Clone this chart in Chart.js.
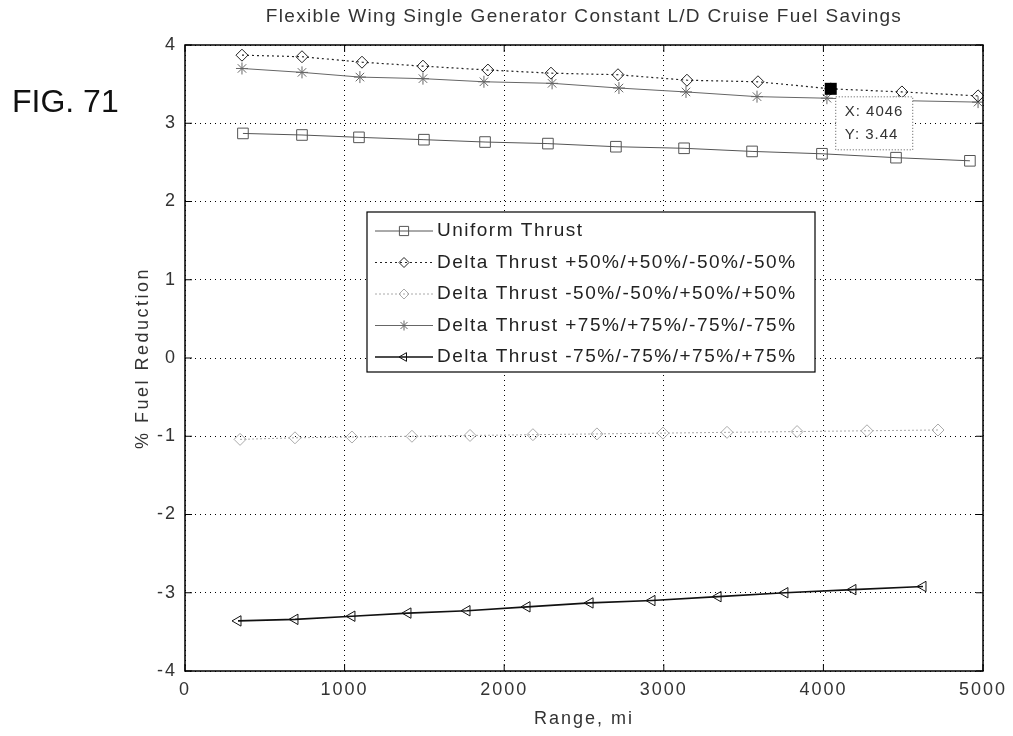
<!DOCTYPE html>
<html>
<head>
<meta charset="utf-8">
<script src="https://cdn.jsdelivr.net/npm/chart.js@4/dist/chart.umd.min.js"></script>
<style>
  html, body { margin: 0; padding: 0; background: #fff; }
  #wrap { width: 1013px; height: 736px; }
</style>
</head>
<body>
<div id="wrap"><canvas id="fuel" width="1013" height="736"></canvas></div>
<script>
// textos
const chartTitle = 'Flexible Wing Single Generator Constant L/D Cruise Fuel Savings';
const figLabel = 'FIG. 71';
const xAxisTitle = 'Range, mi';
const yAxisTitle = '% Fuel Reduction';

// datos
const uniformX = [363, 733, 1090, 1497, 1880, 2274, 2700, 3127, 3553, 3991, 4455, 4918];
const uniformY = [2.87, 2.85, 2.82, 2.79, 2.76, 2.74, 2.70, 2.68, 2.64, 2.61, 2.56, 2.52];

const plus50X = [357, 733, 1109, 1491, 1898, 2293, 2713, 3145, 3590, 4046, 4492, 4969];
const plus50Y = [3.87, 3.85, 3.78, 3.73, 3.68, 3.64, 3.62, 3.55, 3.53, 3.44, 3.40, 3.35];

const minus50X = [345, 689, 1046, 1422, 1786, 2180, 2581, 2995, 3396, 3835, 4273, 4718];
const minus50Y = [-1.04, -1.02, -1.01, -1.00, -0.99, -0.98, -0.97, -0.96, -0.95, -0.94, -0.93, -0.92];

const plus75X = [357, 733, 1096, 1491, 1873, 2300, 2719, 3139, 3584, 4022, 4470, 4969];
const plus75Y = [3.70, 3.65, 3.59, 3.57, 3.53, 3.51, 3.45, 3.40, 3.34, 3.32, 3.29, 3.27];

const minus75X = [332, 689, 1046, 1397, 1767, 2143, 2538, 2926, 3340, 3759, 4185, 4624];
const minus75Y = [-3.36, -3.34, -3.30, -3.26, -3.23, -3.18, -3.13, -3.10, -3.05, -3.00, -2.96, -2.92];

// etiqueta del cursor de datos
const tipX = 4046;
const tipY = 3.44;

const xTicks = [0, 1000, 2000, 3000, 4000, 5000];
const yTicks = [-4, -3, -2, -1, 0, 1, 2, 3, 4];

const FONT = '"Liberation Sans", Arial, sans-serif';

function toPoints(xs, ys) {
  return xs.map((x, i) => ({ x: x, y: ys[i] }));
}

function serie(label, xs, ys, color, dash, width, style, radius, rotation) {
  return {
    label: label,
    data: toPoints(xs, ys),
    borderColor: color,
    borderWidth: width,
    borderDash: dash,
    pointStyle: style,
    pointRadius: radius,
    pointRotation: rotation || 0,
    pointBorderColor: color,
    pointBackgroundColor: 'rgba(0,0,0,0)',
    pointBorderWidth: 1,
    fill: false,
    tension: 0
  };
}

const datasets = [
  serie('Uniform Thrust', uniformX, uniformY, '#555', [], 1, 'rect', 7.5),
  serie('Delta Thrust +50%/+50%/-50%/-50%', plus50X, plus50Y, '#222', [2, 3], 1.2, 'rectRot', 6),
  serie('Delta Thrust -50%/-50%/+50%/+50%', minus50X, minus50Y, '#aaa', [2, 2], 1, 'rectRot', 6),
  serie('Delta Thrust +75%/+75%/-75%/-75%', plus75X, plus75Y, '#666', [], 1, 'star', 6),
  serie('Delta Thrust -75%/-75%/+75%/+75%', minus75X, minus75Y, '#111', [], 1.6, 'triangle', 6, -90)
];

// dibujar marcador
function marker(ctx, ds, x, y) {
  ctx.save();
  ctx.strokeStyle = ds.pointBorderColor;
  ctx.fillStyle = ds.pointBackgroundColor;
  ctx.lineWidth = 1;
  ctx.setLineDash([]);
  if (Chart.helpers && Chart.helpers.drawPoint) {
    Chart.helpers.drawPoint(ctx, { pointStyle: ds.pointStyle, rotation: ds.pointRotation, radius: ds.pointRadius - 1, borderWidth: 1 }, x, y);
  } else {
    ctx.strokeRect(x - 4, y - 4, 8, 8);
  }
  ctx.restore();
}

// decoracion estilo matlab: marco, marcas, titulos, leyenda y cursor
const matlabDecor = {
  id: 'matlabDecor',
  beforeDraw(chart) {
    // las fuentes de matlab van mas espaciadas
    chart.ctx.letterSpacing = '2px';
  },
  afterDraw(chart) {
    const ctx = chart.ctx;
    const a = chart.chartArea;
    const xs = chart.scales.x;
    const ys = chart.scales.y;

    ctx.save();
    ctx.setLineDash([]);
    ctx.strokeStyle = '#000';
    ctx.lineWidth = 1.5;
    ctx.strokeRect(a.left, a.top, a.right - a.left, a.bottom - a.top);

    ctx.lineWidth = 1;
    xTicks.forEach(v => {
      const p = xs.getPixelForValue(v);
      ctx.beginPath();
      ctx.moveTo(p, a.bottom); ctx.lineTo(p, a.bottom - 7);
      ctx.moveTo(p, a.top); ctx.lineTo(p, a.top + 7);
      ctx.stroke();
    });
    yTicks.forEach(v => {
      const p = ys.getPixelForValue(v);
      ctx.beginPath();
      ctx.moveTo(a.left, p); ctx.lineTo(a.left + 7, p);
      ctx.moveTo(a.right, p); ctx.lineTo(a.right - 7, p);
      ctx.stroke();
    });

    // titulos
    ctx.fillStyle = '#333';
    ctx.letterSpacing = '1.3px';
    ctx.font = '19px ' + FONT;
    ctx.textAlign = 'center';
    ctx.textBaseline = 'middle';
    ctx.fillText(chartTitle, (a.left + a.right) / 2, 17);

    ctx.letterSpacing = '2px';
    ctx.font = '18px ' + FONT;
    ctx.fillText(xAxisTitle, (a.left + a.right) / 2, 719);

    ctx.save();
    ctx.letterSpacing = '2.5px';
    ctx.translate(143, (a.top + a.bottom) / 2);
    ctx.rotate(-Math.PI / 2);
    ctx.fillText(yAxisTitle, 0, 0);
    ctx.restore();

    ctx.letterSpacing = '0px';
    ctx.fillStyle = '#111';
    ctx.font = '32px ' + FONT;
    ctx.textAlign = 'left';
    ctx.textBaseline = 'alphabetic';
    ctx.fillText(figLabel, 12, 112);

    // leyenda
    const lx = 367, ly = 212, lw = 448, lh = 160;
    ctx.fillStyle = '#fff';
    ctx.fillRect(lx, ly, lw, lh);
    ctx.strokeStyle = '#000';
    ctx.lineWidth = 1.2;
    ctx.strokeRect(lx, ly, lw, lh);
    ctx.letterSpacing = '1.5px';
    ctx.font = '19px ' + FONT;
    ctx.textBaseline = 'middle';
    chart.data.datasets.forEach((ds, i) => {
      const y = ly + 19 + i * 31.5;
      ctx.save();
      ctx.strokeStyle = ds.borderColor;
      ctx.lineWidth = ds.borderWidth;
      ctx.setLineDash(ds.borderDash);
      ctx.beginPath();
      ctx.moveTo(lx + 8, y);
      ctx.lineTo(lx + 66, y);
      ctx.stroke();
      ctx.restore();
      marker(ctx, ds, lx + 37, y);
      ctx.fillStyle = '#222';
      ctx.fillText(ds.label, lx + 70, y);
    });

    // cursor de datos
    const px = xs.getPixelForValue(tipX);
    const py = ys.getPixelForValue(tipY);
    ctx.fillStyle = '#000';
    ctx.fillRect(px - 6, py - 6, 12, 12);
    const bx = px + 5, by = py + 8;
    ctx.fillStyle = '#fff';
    ctx.fillRect(bx, by, 77, 53);
    ctx.save();
    ctx.strokeStyle = '#555';
    ctx.lineWidth = 1;
    ctx.setLineDash([1, 2]);
    ctx.strokeRect(bx, by, 77, 53);
    ctx.restore();
    ctx.fillStyle = '#333';
    ctx.letterSpacing = '1px';
    ctx.font = '15px ' + FONT;
    ctx.fillText('X: ' + tipX, bx + 9, by + 15);
    ctx.fillText('Y: ' + tipY.toFixed(2), bx + 9, by + 38);

    ctx.restore();
  }
};

new Chart(document.getElementById('fuel'), {
  type: 'line',
  data: { datasets: datasets },
  plugins: [matlabDecor],
  options: {
    responsive: false,
    animation: false,
    layout: { padding: { left: 0, top: 45, right: 30, bottom: 0 } },
    plugins: {
      legend: { display: false },
      title: { display: false },
      tooltip: { enabled: false }
    },
    scales: {
      x: {
        type: 'linear',
        min: 0,
        max: 5000,
        afterFit: (s) => { s.height = 65; },
        afterBuildTicks: (s) => { s.ticks = xTicks.map(v => ({ value: v })); },
        ticks: { color: '#333', font: { family: FONT, size: 18 }, padding: 8, maxRotation: 0, callback: (v) => String(v) },
        grid: { color: '#000', lineWidth: 1, drawTicks: false },
        border: { display: false, dash: [1, 4] }
      },
      y: {
        type: 'linear',
        min: -4,
        max: 4,
        afterFit: (s) => { s.width = 185; },
        afterBuildTicks: (s) => { s.ticks = yTicks.map(v => ({ value: v })); },
        ticks: { color: '#333', font: { family: FONT, size: 18 }, padding: 8, callback: (v) => String(v) },
        grid: { color: '#000', lineWidth: 1, drawTicks: false },
        border: { display: false, dash: [1, 4] }
      }
    }
  }
});
</script>
</body>
</html>
